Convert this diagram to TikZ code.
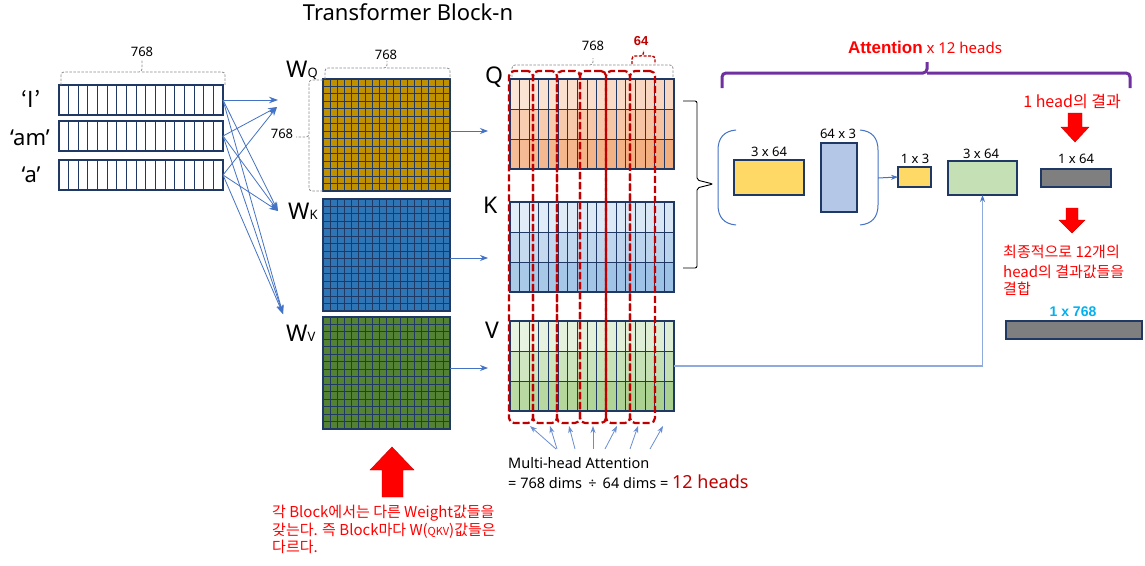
\documentclass[tikz,border=0pt]{standalone}
\usepackage{fontspec}
\setmainfont{Noto Sans}
\newfontfamily\kr{Noto Sans CJK KR}
\newfontfamily\bsans{Liberation Sans}
\usetikzlibrary{arrows.meta}
\definecolor{navy}{HTML}{1F3864}
\definecolor{conn}{HTML}{4472C4}
\definecolor{lconn}{HTML}{8FAADC}
\definecolor{dred}{HTML}{C00000}
\definecolor{bred}{HTML}{FF0000}
\definecolor{gold}{HTML}{BF9000}
\definecolor{wblue}{HTML}{2E75B6}
\definecolor{wgreen}{HTML}{548235}
\definecolor{brpurple}{HTML}{7030A0}
\definecolor{cyanb}{HTML}{00B0F0}
\definecolor{ybox}{HTML}{FFD966}
\definecolor{bbox}{HTML}{B4C7E7}
\definecolor{gbox}{HTML}{C5E0B4}
\definecolor{graybox}{HTML}{7F7F7F}
\definecolor{q1l}{HTML}{FBE5D6}\definecolor{q1r}{HTML}{F8D5BE}
\definecolor{q2l}{HTML}{F8CEB2}\definecolor{q2r}{HTML}{F5C2A0}
\definecolor{q3l}{HTML}{F5BC96}\definecolor{q3r}{HTML}{F2AC7C}
\definecolor{k1l}{HTML}{E2EDF8}\definecolor{k1r}{HTML}{D8E6F4}
\definecolor{k2l}{HTML}{C6DAEF}\definecolor{k2r}{HTML}{BAD3EC}
\definecolor{k3l}{HTML}{ABCAE8}\definecolor{k3r}{HTML}{9BC1E5}
\definecolor{v1l}{HTML}{E9F3E2}\definecolor{v1r}{HTML}{DDEDD3}
\definecolor{v2l}{HTML}{D1E7C3}\definecolor{v2r}{HTML}{C3DFB1}
\definecolor{v3l}{HTML}{BBDAA4}\definecolor{v3r}{HTML}{A8D08D}
\newcommand{\fsz}[1]{\fontsize{#1}{#1}\selectfont}
\begin{document}
\begin{tikzpicture}[x=1pt,y=-1pt,
  cell/.style={draw=navy,line width=0.9pt},
  vecbox/.style={draw=navy,line width=1.2pt,minimum width=164pt,minimum height=30pt,inner sep=0pt,outer sep=0pt,anchor=north west},
  wmat/.style={draw=navy,line width=1.2pt,minimum width=127pt,minimum height=112pt,inner sep=0pt,outer sep=0pt,anchor=north west},
  qkvbox/.style={draw=navy,line width=1.2pt,minimum width=164pt,minimum height=90pt,inner sep=0pt,outer sep=0pt,anchor=north west},
  sbox/.style={draw=navy,line width=1.1pt,inner sep=0pt,outer sep=0pt,anchor=north west},
  inarrow/.style={draw=conn,line width=0.8pt,-{Stealth[length=9pt,width=6.5pt]}},
  smarrow/.style={draw=conn!80,line width=0.8pt,-{Stealth[length=7pt,width=5pt]}},
  dimbr/.style={draw=black!45,line width=0.8pt,dash pattern=on 2.5pt off 1.5pt,rounded corners=3pt},
  redbr/.style={draw=dred,line width=1.4pt,dash pattern=on 3pt off 1.5pt,rounded corners=3pt},
  headstrip/.style={draw=dred,line width=2.2pt,dash pattern=on 7pt off 3pt,rounded corners=5pt,inner sep=0pt,outer sep=0pt,minimum height=352pt,anchor=north west},
  lbl/.style={inner sep=0pt,anchor=base},
  lblw/.style={inner sep=0pt,anchor=base west},
  redarrow/.style={fill=bred,draw=bred!80!black,line width=0.4pt},
]
\useasboundingbox (0,0) rectangle (1145,565);
\fill[white] (0,0) rectangle (1145,565);

% title
\node[lbl,font=\fsz{22}] (title) at (408,20) {Transformer Block-n};

% input vectors
\foreach \ty/\nm in {85/r1,121/r2,160/r3} {
  \foreach \i in {1,...,16} \draw[cell] ({59+\i*164/17},\ty) -- ++(0,30);
  \node[vecbox] (\nm) at (59,\ty) {};
}
\node[lbl,font=\kr\fsz{22}] (lI) at (31,107) {‘I’};
\node[lbl,font=\fsz{22}] (lam) at (30,145) {‘am’};
\node[lbl,font=\fsz{22}] (la) at (31,182) {‘a’};
\draw[dimbr] (61,85) |- (142,72) -- (142,60);
\draw[dimbr] (142,72) -| (225,85);
\node[lbl,font=\fsz{13}] (d768a) at (142,56) {768};

% weight matrices
\foreach \ty/\nm/\col in {79/WQ/gold,199/WK/wblue,317/WV/wgreen} {
  \node[wmat,fill=\col] (\nm) at (323,\ty) {};
  \foreach \i in {1,...,17} \draw[cell] ({323+\i*127/18},\ty) -- ++(0,112);
  \foreach \j in {1,...,14} \draw[cell] (323,{\ty+\j*112/15}) -- ++(127,0);
}
\node[lblw,font=\fsz{23}] (lWQ) at (286,77) {W{\fsz{13}Q}};
\node[lblw,font=\fsz{23}] (lWK) at (288,219) {W{\fsz{13}K}};
\node[lblw,font=\fsz{23}] (lWV) at (286,341) {W{\fsz{13}V}};
\draw[dimbr] (325,79) |- (387,68) -- (387,61);
\draw[dimbr] (387,68) -| (450,79);
\node[lbl,font=\fsz{13}] (d768b) at (386,59) {768};
\draw[dimbr] (323,80) -| (309,137) -- (296,137);
\draw[dimbr] (309,137) |- (323,191);
\node[lbl,font=\fsz{13}] (d768c) at (282,138) {768};

% arrows input -> W
\coordinate (tq1) at (278,100);
\coordinate (tq2) at (277,107);
\coordinate (tk) at (278,211);
\coordinate (tv) at (283,314);
\draw[inarrow] (r1.east) -- (tq1);
\draw[inarrow] (r2.east) -- (tq2);
\draw[inarrow] (r3.east) -- (tq2);
\foreach \s in {r1,r2,r3} {
  \draw[inarrow] (\s.east) -- (tk);
  \draw[inarrow] (\s.east) -- (tv);
}

% Q K V matrices
\foreach \mx/\ty in {q/79,k/202,v/321} {
  \foreach \rw in {1,2,3} \fill[left color=\mx\rw l,right color=\mx\rw r] (510,{\ty+(\rw-1)*30}) rectangle ++(164,30);
  \foreach \i in {1,...,16} \draw[cell] ({510+\i*164/17},\ty) -- ++(0,90);
  \draw[cell] (510,{\ty+30}) -- ++(164,0);
  \draw[cell] (510,{\ty+60}) -- ++(164,0);
  \node[qkvbox] (\mx M) at (510,\ty) {};
}
\node[lblw,font=\fsz{23}] (lQ) at (485,83) {Q};
\node[lblw,font=\fsz{23}] (lK) at (483,213) {K};
\node[lblw,font=\fsz{23}] (lV) at (485,338) {V};

% arrows W -> QKV
\coordinate (qa) at (488,131);
\coordinate (ka) at (488,258);
\coordinate (va) at (488,368);
\draw[inarrow,-{Stealth[length=8pt,width=6pt]}] (WQ.east |- qa) -- (qa);
\draw[inarrow,-{Stealth[length=8pt,width=6pt]}] (WK.east |- ka) -- (ka);
\draw[inarrow,-{Stealth[length=8pt,width=6pt]}] (WV.east |- va) -- (va);

% brackets over Q
\draw[dimbr] (512,77) |- (593,65) -- (593,58);
\draw[dimbr] (593,65) -| (673,77);
\node[lbl,font=\fsz{13}] (d768d) at (593,50) {768};
\draw[redbr] (632,64) |- (643.5,56) -- (643.5,50);
\draw[redbr] (643.5,56) -| (655,64);
\node[lbl,font=\bsans\bfseries\fsz{13},text=dred] (d64) at (641,45) {64};

% head strips
\foreach \a/\w [count=\k] in {509/24,533/24,557/23,580/26,606/24,630/25} {
  \node[headstrip,minimum width=\w pt] (h\k) at (\a,71) {};
}

% small arrows
\foreach \a/\b [count=\k] in {556/530,557/550,575/569,593/593,605/617,630/638,650/663} {
  \coordinate (ma\k) at (\a,449);
  \coordinate (mb\k) at (\b,426);
  \draw[smarrow] (ma\k) -- (mb\k);
}
\node[lblw,font=\fsz{14.5}] (mh1) at (508,468) {Multi-head Attention};
\node[lblw,font=\fsz{14.5}] (mh2) at (508,488) {= 768 dims \,÷\, 64 dims = {\color{dred}\fsz{18}12 heads}};

% big up arrow and text
\fill[redarrow] (382,497) -- (382,470) -- (370,470) -- (392,447) -- (414,470) -- (403,470) -- (403,497) -- cycle;
\node[lblw,font=\kr\fsz{15},text=bred] (bt1) at (272,517) {각 Block에서는 다른 Weight값들을};
\node[lblw,font=\kr\fsz{15},text=bred] (bt2) at (272,535) {갖는다. 즉 Block마다 W({\fsz{11}QKV})값들은};
\node[lblw,font=\kr\fsz{15},text=bred] (bt3) at (272,552) {다르다.};

% black curly brace
\draw[black,line width=0.9pt,rounded corners=2pt] (683,101) -- (697,101) -- (697,180) -- (713,184) -- (697,188) -- (697,268) -- (683,268);

% parentheses
\draw[conn,line width=1pt] (736,130) .. controls (724,131) and (718,138) .. (718,150) -- (718,205) .. controls (718,217) and (724,224) .. (736,225);
\draw[conn,line width=1pt] (860,130) .. controls (872,131) and (878,138) .. (878,150) -- (878,205) .. controls (878,217) and (872,224) .. (860,225);
\coordinate (pr) at (878,178);

% attention boxes
\node[sbox,fill=ybox,minimum width=70pt,minimum height=35pt] (y364) at (734,160) {};
\node[sbox,fill=bbox,minimum width=36pt,minimum height=69pt] (b643) at (821,143) {};
\node[sbox,fill=ybox,minimum width=33pt,minimum height=20pt] (y13) at (898,167) {};
\node[sbox,fill=gbox,minimum width=69pt,minimum height=34pt] (g364) at (948,161) {};
\node[sbox,fill=graybox,minimum width=70pt,minimum height=18pt] (g164) at (1041,169) {};
\node[sbox,fill=graybox,minimum width=136pt,minimum height=18pt] (g1768) at (1006,321) {};
\node[lbl,font=\fsz{13}] (ly364) at (769,156) {3 x 64};
\node[lbl,font=\fsz{13}] (lb643) at (838,138) {64 x 3};
\node[lbl,font=\fsz{13}] (ly13) at (915,163) {1 x 3};
\node[lbl,font=\fsz{13}] (lg364) at (981,158) {3 x 64};
\node[lbl,font=\fsz{13}] (lg164) at (1076,163) {1 x 64};
\node[lbl,font=\bsans\bfseries\fsz{14},text=cyanb] (lg1768) at (1073,316) {1 x 768};

\draw[conn,line width=1pt,-{Stealth[length=7pt,width=5pt]}] (pr) -- (y13.west);
\draw[lconn,line width=1.3pt,-{Stealth[length=7pt,width=5pt,color=conn]}] (vM.east) -| (g364.south);

% purple brace
\draw[brpurple,line width=3pt,rounded corners=4pt] (722,88) |- (927,73) -- (927,62);
\draw[brpurple,line width=3pt,rounded corners=4pt] (927,73) -| (1130,88);
\node[lbl,font=\fsz{15},text=bred] (att) at (925,53) {{\bsans\bfseries\fsz{17}Attention} x 12 heads};

% right red arrows and texts
\node[lbl,font=\kr\fsz{16},text=bred] (oneh) at (1072,107) {1 head의 결과};
\fill[redarrow] (1068,113) -- (1082,113) -- (1082,127) -- (1089,127) -- (1075,142) -- (1061,127) -- (1068,127) -- cycle;
\fill[redarrow] (1066,208) -- (1078,208) -- (1078,220) -- (1085,220) -- (1072,233) -- (1059,220) -- (1066,220) -- cycle;
\node[lblw,font=\kr\fsz{15},text=bred] (rt1) at (1003,257) {최종적으로 12개의};
\node[lblw,font=\kr\fsz{15},text=bred] (rt2) at (1003,277) {head의 결과값들을};
\node[lblw,font=\kr\fsz{15},text=bred] (rt3) at (1003,294) {결합};
\end{tikzpicture}
\end{document}
